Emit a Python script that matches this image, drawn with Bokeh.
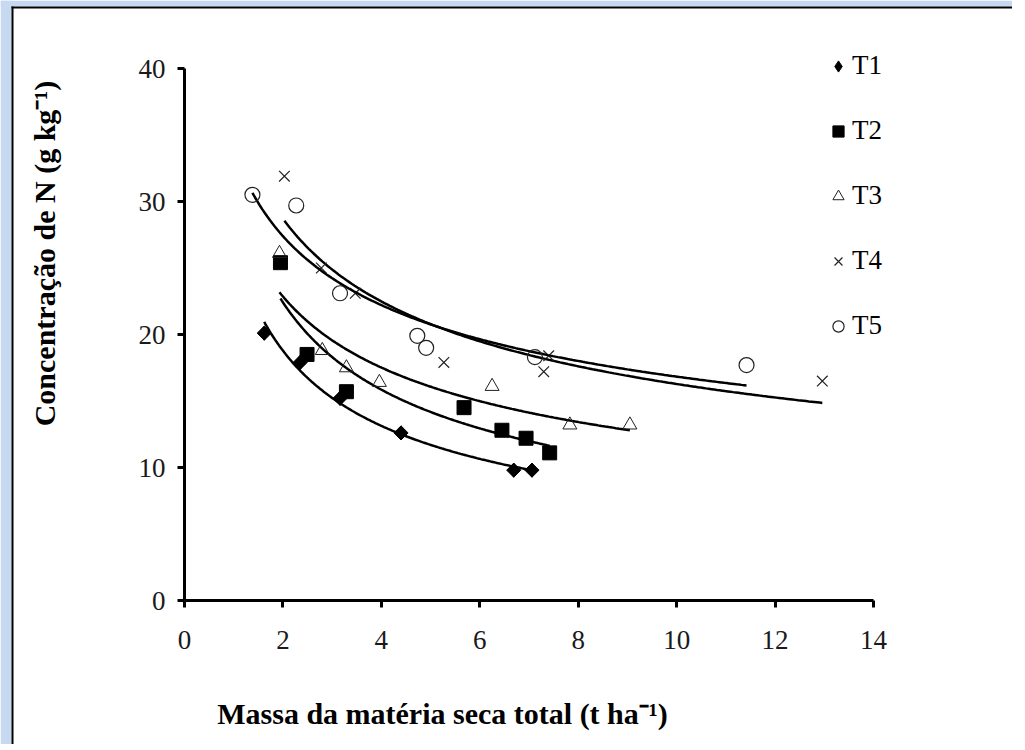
import numpy as np
from bokeh.plotting import figure
from bokeh.models import Range1d, Label, Legend, LegendItem, BoxAnnotation
from bokeh.embed import file_html
from bokeh.resources import INLINE

# ---- data ----
t1_x = [1.62, 2.35, 3.16, 4.40, 6.69, 7.06]
t1_y = [20.1, 17.9, 15.2, 12.6, 9.8, 9.8]
t2_x = [1.95, 2.49, 3.29, 5.68, 6.45, 6.94, 7.42]
t2_y = [25.4, 18.5, 15.7, 14.5, 12.8, 12.2, 11.1]
t3_x = [1.93, 2.80, 3.29, 3.96, 6.25, 7.83, 9.05]
t3_y = [26.1, 18.8, 17.5, 16.4, 16.1, 13.2, 13.2]
t4_x = [2.03, 2.78, 3.47, 5.27, 7.30, 7.40, 12.96]
t4_y = [31.9, 25.0, 23.1, 17.9, 17.2, 18.4, 16.5]
t5_x = [1.38, 2.27, 3.16, 4.73, 4.91, 7.12, 11.42]
t5_y = [30.5, 29.7, 23.1, 19.9, 19.0, 18.3, 17.7]

series_names = ["T1", "T2", "T3", "T4", "T5"]
x_ticks = [0, 2, 4, 6, 8, 10, 12, 14]
y_ticks = [0, 10, 20, 30, 40]
x_title = "Massa da matéria seca total (t ha\u207b\u00b9)"
y_title = "Concentração de N (g kg\u207b\u00b9)"

SERIF = "Liberation Serif"
BLUE = "#c6d9f1"

# ---- layout (pixels) ----
W, H = 1012, 744
AX_LEFT, AX_RIGHT = 184, 873      # x = 0 .. 14
AX_TOP, AX_BOTTOM = 68, 600       # y = 40 .. 0
x_lo, x_hi = 0, 14
y_lo, y_hi = 0, 40
sx = (AX_RIGHT - AX_LEFT) / (x_hi - x_lo)
sy = (AX_BOTTOM - AX_TOP) / (y_hi - y_lo)
x_range = Range1d(x_lo - AX_LEFT / sx, x_hi + (W - AX_RIGHT) / sx)
y_range = Range1d(y_lo - (H - AX_BOTTOM) / sy, y_hi + AX_TOP / sy)

p = figure(width=W, height=H, x_range=x_range, y_range=y_range,
           output_backend="svg", toolbar_location=None,
           min_border=0)
p.title.visible = False
p.background_fill_color = "white"
p.border_fill_color = "white"
p.outline_line_color = None
p.xgrid.visible = False
p.ygrid.visible = False

# blue page strips (left / top) and the black edge of the chart area
def canvas_box(left, right, top, bottom, color):
    return BoxAnnotation(left=left, right=right, top=top, bottom=bottom,
                         left_units="canvas", right_units="canvas",
                         top_units="canvas", bottom_units="canvas",
                         fill_color=color, fill_alpha=1.0, line_color=None,
                         level="underlay")

p.add_layout(canvas_box(0, 11, 0, H, BLUE))
p.add_layout(canvas_box(0, W, 0, 6, BLUE))
p.add_layout(canvas_box(11, 13, 6, H, "black"))
p.add_layout(canvas_box(11, W, 6, 8, "black"))

for ax in (p.xaxis[0], p.yaxis[0]):
    ax.fixed_location = 0
    ax.axis_line_width = 3
    ax.axis_line_color = "black"
    ax.major_tick_line_width = 3
    ax.major_tick_line_color = "black"
    ax.major_tick_in = 0
    ax.major_tick_out = 7
    ax.minor_tick_line_color = None
    ax.major_label_text_font = SERIF
    ax.major_label_text_font_size = "27px"
    ax.major_label_text_color = "#1a1a1a"
p.xaxis.bounds = (x_lo, x_hi)
p.yaxis.bounds = (y_lo, y_hi)
p.xaxis.ticker = x_ticks
p.yaxis.ticker = y_ticks
p.xaxis.major_label_standoff = 23
p.yaxis.major_label_standoff = 12

series = [
    (t1_x, t1_y, dict(marker="square", size=10, angle=np.pi / 4, fill_color="black", line_color="black")),
    (t2_x, t2_y, dict(marker="square", size=14, fill_color="black", line_color="black")),
    (t3_x, t3_y, dict(marker="triangle", size=14, fill_color=None, line_color="#222222", line_width=1)),
    (t4_x, t4_y, dict(marker="x", size=15, line_color="#222222", line_width=1.2)),
    (t5_x, t5_y, dict(marker="circle", size=15, fill_color=None, line_color="#222222", line_width=1.2)),
]

items = []
for name, (xs, ys, style) in zip(series_names, series):
    xs_a = np.array(xs)
    ys_a = np.array(ys)
    # power trend line (log-log least squares), drawn over the data range
    b, lna = np.polyfit(np.log(xs_a), np.log(ys_a), 1)
    xf = np.linspace(xs_a.min(), xs_a.max(), 200)
    yf = np.exp(lna) * xf ** b
    p.line(xf, yf, line_color="black", line_width=2.5)
    legend_r = None
    if name == "T1":
        # diamond swatch for the legend (legend glyphs ignore marker rotation);
        # it sits entirely under the rotated squares drawn next
        legend_r = p.scatter(xs, ys, marker="diamond", size=14,
                             fill_color="black", line_color="black")
    r = p.scatter(xs, ys, **style)
    items.append(LegendItem(label=name, renderers=[legend_r or r]))

legend = Legend(items=items, location=(824, H - 341), orientation="vertical",
                glyph_width=28, glyph_height=28, label_height=28, spacing=34,
                label_standoff=0, padding=0, margin=0,
                border_line_color=None, background_fill_alpha=0,
                label_text_font=SERIF, label_text_font_size="27px",
                label_text_color="black")
p.add_layout(legend, "center")

p.add_layout(Label(x=442, y=H - 713, x_units="screen", y_units="screen", text=x_title,
                   text_font=SERIF, text_font_size="30px", text_font_style="bold",
                   text_align="center", text_baseline="middle", text_color="black"))
p.add_layout(Label(x=44, y=H - 253, x_units="screen", y_units="screen", text=y_title,
                   angle=np.pi / 2, text_font=SERIF, text_font_size="30px",
                   text_font_style="bold", text_align="center", text_baseline="middle",
                   text_color="black"))

open("out.html", "w").write(file_html(p, INLINE))
